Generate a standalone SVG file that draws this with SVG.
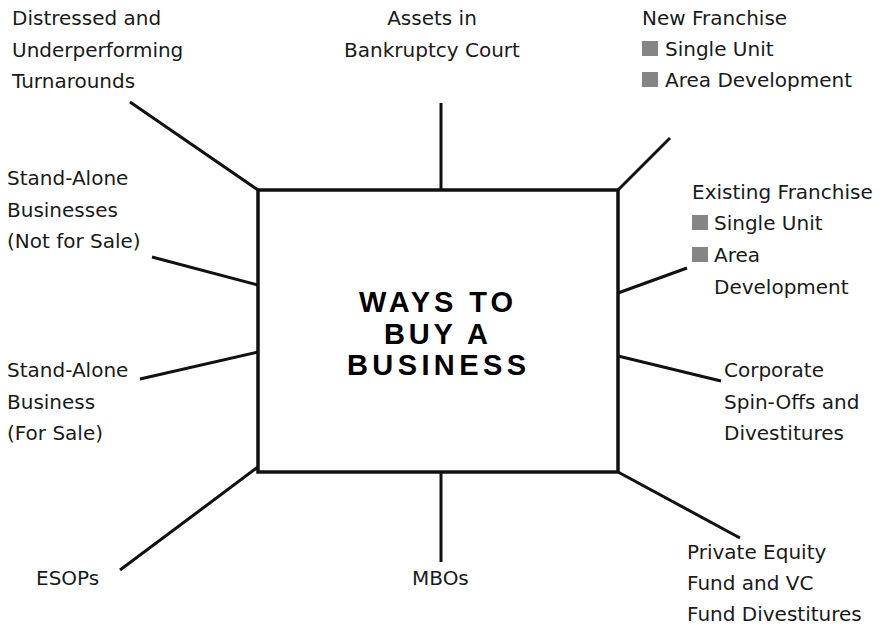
<svg xmlns="http://www.w3.org/2000/svg" width="881" height="627" viewBox="0 0 881 627">
<style>
.lbl{font-family:"DejaVu Sans","Liberation Sans",sans-serif;font-size:20px;fill:#1a1a1a}
.ttl{font-family:"Liberation Sans",Arial,sans-serif;font-size:29px;font-weight:bold;fill:#000}
.con line{stroke:#111;stroke-width:3;stroke-linecap:butt}
.box{fill:#fff;stroke:#111;stroke-width:3.5}
.sq{fill:#858585}
</style>
<rect width="881" height="627" fill="#fff"/>
<g class="con" id="connectors">
<line x1="130" y1="102" x2="258" y2="190"/>
<line x1="441" y1="103" x2="441" y2="190"/>
<line x1="618" y1="190" x2="670" y2="138"/>
<line x1="618" y1="293" x2="687" y2="268"/>
<line x1="618" y1="356" x2="721" y2="381"/>
<line x1="618" y1="472" x2="740" y2="538"/>
<line x1="441" y1="472" x2="441" y2="562"/>
<line x1="258" y1="467" x2="120" y2="570"/>
<line x1="258" y1="352" x2="140" y2="379"/>
<line x1="152" y1="257" x2="258" y2="285"/>
</g>
<g id="center">
<rect class="box" x="258" y="190" width="360" height="282"/>
<text class="ttl" x="359" y="312" textLength="154" lengthAdjust="spacing">WAYS TO</text>
<text class="ttl" x="384" y="344" textLength="104" lengthAdjust="spacing">BUY A</text>
<text class="ttl" x="347" y="375" textLength="179" lengthAdjust="spacing">BUSINESS</text>
</g>
<g id="distressed">
<text class="lbl" x="12" y="25">Distressed and</text>
<text class="lbl" x="12" y="57">Underperforming</text>
<text class="lbl" x="12" y="88">Turnarounds</text>
</g>
<g id="bankruptcy">
<text class="lbl" x="432" y="25" text-anchor="middle">Assets in</text>
<text class="lbl" x="432" y="57" text-anchor="middle">Bankruptcy Court</text>
</g>
<g id="new-franchise">
<text class="lbl" x="642" y="25">New Franchise</text>
<rect class="sq" x="642" y="41" width="16" height="15"/>
<text class="lbl" x="665" y="56">Single Unit</text>
<rect class="sq" x="642" y="72" width="16" height="15"/>
<text class="lbl" x="665" y="87">Area Development</text>
</g>
<g id="existing-franchise">
<text class="lbl" x="692" y="199">Existing Franchise</text>
<rect class="sq" x="692" y="215" width="16" height="15"/>
<text class="lbl" x="714" y="230">Single Unit</text>
<rect class="sq" x="692" y="247" width="16" height="15"/>
<text class="lbl" x="714" y="262">Area</text>
<text class="lbl" x="714" y="294">Development</text>
</g>
<g id="standalone-notforsale">
<text class="lbl" x="7" y="185">Stand-Alone</text>
<text class="lbl" x="7" y="217">Businesses</text>
<text class="lbl" x="7" y="248">(Not for Sale)</text>
</g>
<g id="standalone-forsale">
<text class="lbl" x="7" y="377">Stand-Alone</text>
<text class="lbl" x="7" y="409">Business</text>
<text class="lbl" x="7" y="440">(For Sale)</text>
</g>
<g id="corporate">
<text class="lbl" x="724" y="377">Corporate</text>
<text class="lbl" x="724" y="409">Spin-Offs and</text>
<text class="lbl" x="724" y="440">Divestitures</text>
</g>
<g id="private-equity">
<text class="lbl" x="687" y="559">Private Equity</text>
<text class="lbl" x="687" y="590">Fund and VC</text>
<text class="lbl" x="687" y="621">Fund Divestitures</text>
</g>
<g id="esops">
<text class="lbl" x="36" y="585">ESOPs</text>
</g>
<g id="mbos">
<text class="lbl" x="412" y="585">MBOs</text>
</g>
</svg>
